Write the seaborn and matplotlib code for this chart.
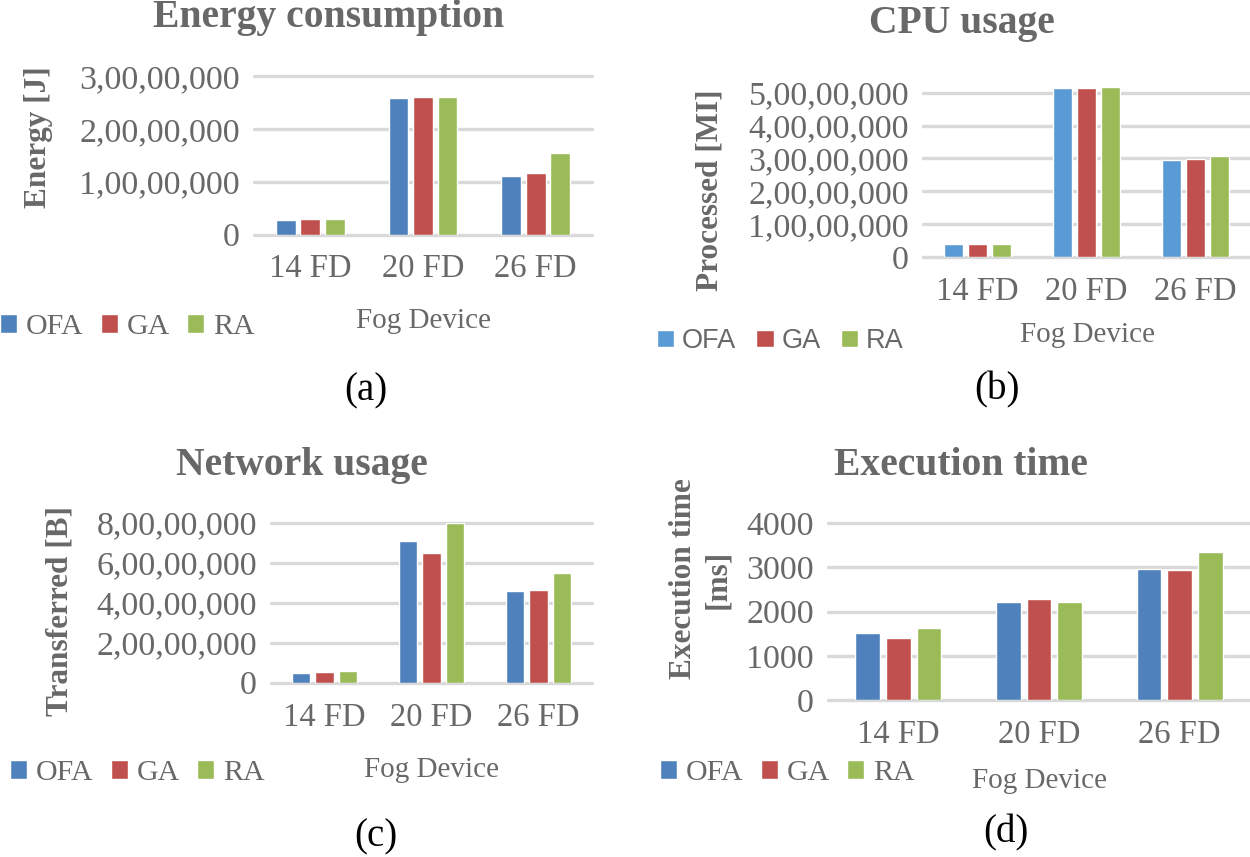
import numpy as np
import pandas as pd
import matplotlib
matplotlib.use("Agg")
import matplotlib.pyplot as plt
import seaborn as sns
from matplotlib.ticker import FuncFormatter, MultipleLocator

# ---------------- data ----------------
categories = ["14 FD", "20 FD", "26 FD"]
algorithms = ["OFA", "GA", "RA"]

energy_ofa = [2.76e6, 2.59e7, 1.11e7]
energy_ga = [2.90e6, 2.605e7, 1.174e7]
energy_ra = [2.90e6, 2.60e7, 1.544e7]

cpu_ofa = [3.85e6, 5.14e7, 2.95e7]
cpu_ga = [3.85e6, 5.13e7, 2.98e7]
cpu_ra = [3.90e6, 5.18e7, 3.07e7]

net_ofa = [4.7e6, 7.10e7, 4.59e7]
net_ga = [5.2e6, 6.48e7, 4.66e7]
net_ra = [5.7e6, 8.00e7, 5.51e7]

exec_ofa = [1507, 2222, 2953]
exec_ga = [1401, 2290, 2938]
exec_ra = [1620, 2222, 3352]

titles = ["Energy consumption", "CPU usage", "Network usage", "Execution time"]
ylabels = ["Energy [J]", "Processed [MI]", "Transferred [B]", "Execution time\n[ms]"]
xlabel = "Fog Device"
captions = ["(a)", "(b)", "(c)", "(d)"]

# ---------------- style ----------------
sns.set_style("white")
plt.rcParams["font.family"] = ["Liberation Serif", "DejaVu Serif"]

W, H = 1250, 857
fig = plt.figure(figsize=(W / 100, H / 100), dpi=100)
GRAY = "#686868"
GRID = "#d9d9d9"
BLUE1 = "#4F81BD"
BLUE2 = "#5B9BD5"
RED = "#C0504D"
GREEN = "#9BBB59"


def indian(v, pos=None):
    n = int(round(v))
    s = str(n)
    if len(s) <= 3:
        return s
    last3, rest = s[-3:], s[:-3]
    groups = []
    while len(rest) > 2:
        groups.insert(0, rest[-2:])
        rest = rest[:-2]
    if rest:
        groups.insert(0, rest)
    return ",".join(groups + [last3])


def ftext(x, y, s, **kw):
    return fig.text(x / W, 1 - y / H, s, **kw)


def make_df(a, b, c):
    rows = []
    for alg, vals in zip(algorithms, [a, b, c]):
        for cat, v in zip(categories, vals):
            rows.append({"cat": cat, "alg": alg, "val": v})
    return pd.DataFrame(rows)


panels = [
    dict(data=(energy_ofa, energy_ga, energy_ra), box=(254, 592, 76.3, 234.5),
         ylim=3e7, step=1e7, fmt=indian, blue=BLUE1,
         title=(329, 27), ylab=(38.5, 137), xlab=(423, 328),
         leg=(0, 327), legfont="serif", cap=(366, 391)),
    dict(data=(cpu_ofa, cpu_ga, cpu_ra), box=(923, 1250, 80, 257),
         ylim=(257 - 80) / (257 - 92.7) * 5e7, step=1e7, fmt=indian, blue=BLUE2,
         title=(962, 33), ylab=(710, 190), xlab=(1087, 342),
         leg=(657, 341), legfont="sans", cap=(997, 390)),
    dict(data=(net_ofa, net_ga, net_ra), box=(271, 592, 523, 682.7),
         ylim=8e7, step=2e7, fmt=indian, blue=BLUE1,
         title=(302, 475), ylab=(60, 611), xlab=(432, 777),
         leg=(10, 773), legfont="serif", cap=(376, 837)),
    dict(data=(exec_ofa, exec_ga, exec_ra), box=(828, 1250, 523, 700),
         ylim=4000, step=1000, fmt=lambda v, p=None: f"{int(round(v))}", blue=BLUE1,
         title=(961, 475), ylab=(700.5, 579), xlab=(1040, 788),
         leg=(660, 773), legfont="serif", cap=(1006, 833)),
]

for i, p in enumerate(panels):
    l, r, t, b = p["box"]
    ax = fig.add_axes([l / W, 1 - b / H, (r - l) / W, (b - t) / H])
    df = make_df(*p["data"])
    pal = {"OFA": p["blue"], "GA": RED, "RA": GREEN}
    sns.barplot(data=df, x="cat", y="val", hue="alg", hue_order=algorithms,
                order=categories, palette=pal, width=0.655, gap=0.2,
                saturation=1, ax=ax, legend=True, zorder=3)
    ax.set_ylim(0, p["ylim"])
    ax.yaxis.set_major_locator(MultipleLocator(p["step"]))
    ax.yaxis.set_major_formatter(FuncFormatter(p["fmt"]))
    ax.set_xlim(-0.5, 2.5)
    ax.set_xlabel("")
    ax.set_ylabel("")
    for s in ax.spines.values():
        s.set_visible(False)
    ax.set_axisbelow(True)
    ax.yaxis.grid(True, color=GRID, lw=2.4)
    for gl in ax.get_ygridlines():
        gl.set_clip_on(False)
    ax.tick_params(axis="both", length=0, colors=GRAY, labelsize=24.5)
    ax.tick_params(axis="y", pad=10)
    ax.tick_params(axis="x", pad=14, labelsize=23.5)

    # legend
    handles, labels = ax.get_legend_handles_labels()
    ax.get_legend().remove()
    if p["legfont"] == "sans":
        prop = dict(family=["Liberation Sans", "DejaVu Sans"], size=19.5)
        hl = 0.64
        cs = 0.75
    else:
        prop = dict(family=["Liberation Serif", "DejaVu Serif"], size=21.5)
        hl = 0.57
        cs = 0.6
    lx, ly = p["leg"]
    leg = fig.legend(handles, labels, loc="center left",
                     bbox_to_anchor=(lx / W, 1 - ly / H), ncol=3, frameon=False,
                     prop=prop, handlelength=hl, handleheight=hl,
                     handletextpad=0.28, columnspacing=cs, borderpad=0,
                     borderaxespad=0)
    for txt in leg.get_texts():
        txt.set_color(GRAY)

    tx, ty = p["title"]
    ftext(tx, ty, titles[i], ha="center", va="baseline", fontsize=28.5,
          fontweight="bold", color=GRAY)
    yx, yy = p["ylab"]
    ftext(yx, yy, ylabels[i], ha="center", va="center", rotation=90,
          rotation_mode="anchor", fontsize=22.5, fontweight="bold", color=GRAY,
          linespacing=1.25, multialignment="center")
    xx, xy = p["xlab"]
    ftext(xx, xy, xlabel, ha="center", va="baseline", fontsize=21, color=GRAY)
    cx, cy = p["cap"]
    ftext(cx, cy, captions[i], ha="center", va="center", fontsize=28, color="black")

fig.savefig("out.png", dpi=100, facecolor="white")
